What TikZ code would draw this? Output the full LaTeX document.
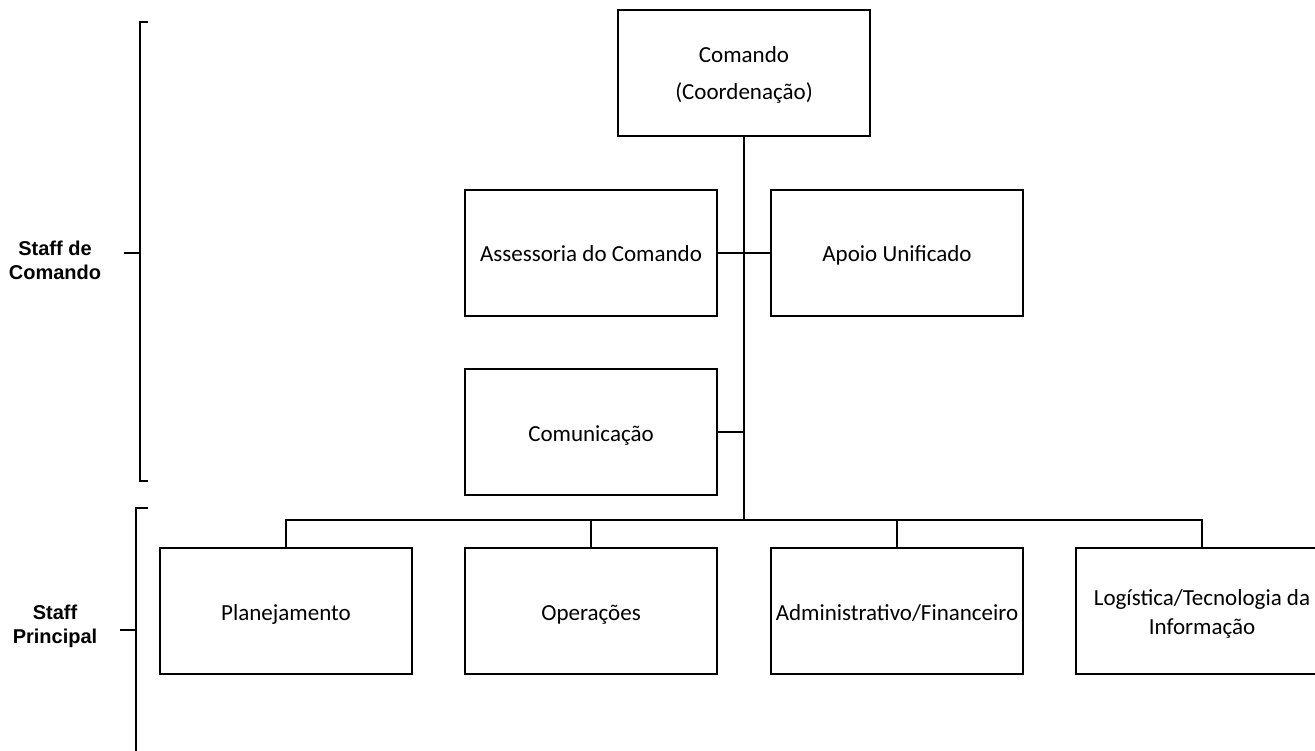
\documentclass[tikz,border=0pt]{standalone}
\usepackage{fontspec}
\setmainfont{Carlito}
\newfontfamily\lblfont{Liberation Sans}
\begin{document}
\begin{tikzpicture}[x=1pt,y=-1pt,
  box/.style={draw=black,line width=2pt,minimum width=252pt,minimum height=126pt,inner sep=0pt,align=center,text height=19.5pt,text depth=1.5pt,font=\fontsize{23}{30}\selectfont},
  conn/.style={line width=2pt},
  brk/.style={line width=2pt,line cap=butt},
  lbl/.style={align=center,font=\lblfont\bfseries\fontsize{20}{24}\selectfont}]
\useasboundingbox (0,0) rectangle (1315,751);
\begin{scope}
\clip (0,0) rectangle (1315,751);
\node[box,text height=54pt,text depth=0pt,font=\fontsize{23}{37}\selectfont] (cmd) at (744,73) {Comando\\(Coordenação)};
\node[box] (ass) at (591,253) {Assessoria do Comando};
\node[box] (apo) at (897,253) {Apoio Unificado};
\node[box] (com) at (591,432) {Comunicação};
\node[box] (pla) at (286,611) {Planejamento};
\node[box] (ope) at (591,611) {Operações};
\node[box] (adm) at (897,611) {Administrativo/Financeiro};
\node[box,text height=46pt,text depth=0pt,font=\fontsize{23}{29}\selectfont] (log) at (1202,611) {Logística/Tecnologia da\\Informação};
\coordinate (bus) at (744,520);
\coordinate (mid2) at (744,432);
\draw[conn] (cmd.south) -- (bus);
\draw[conn] (ass.east) -- (apo.west);
\draw[conn] (com.east) -- (mid2);
\draw[conn] (pla.north) |- (bus);
\draw[conn] (ope.north) |- (bus);
\draw[conn] (adm.north) |- (bus);
\draw[conn] (log.north) |- (bus);
% brackets
\node[lbl] (sc) at (55,260) {Staff de\\Comando};
\node[lbl] (sp) at (55,626) {Staff\\Principal};
\coordinate (b1t) at (148,22);
\coordinate (b1b) at (148,481);
\coordinate (b1m) at (140,253);
\draw[brk] (b1t) -- (140,22) -- (140,481) -- (b1b);
\draw[brk] (124,253) -- (b1m);
\coordinate (b2t) at (148,508);
\coordinate (b2m) at (136,630);
\draw[brk] (b2t) -- (136,508) -- (136,760);
\draw[brk] (120,630) -- (b2m);
\end{scope}
\end{tikzpicture}
\end{document}
